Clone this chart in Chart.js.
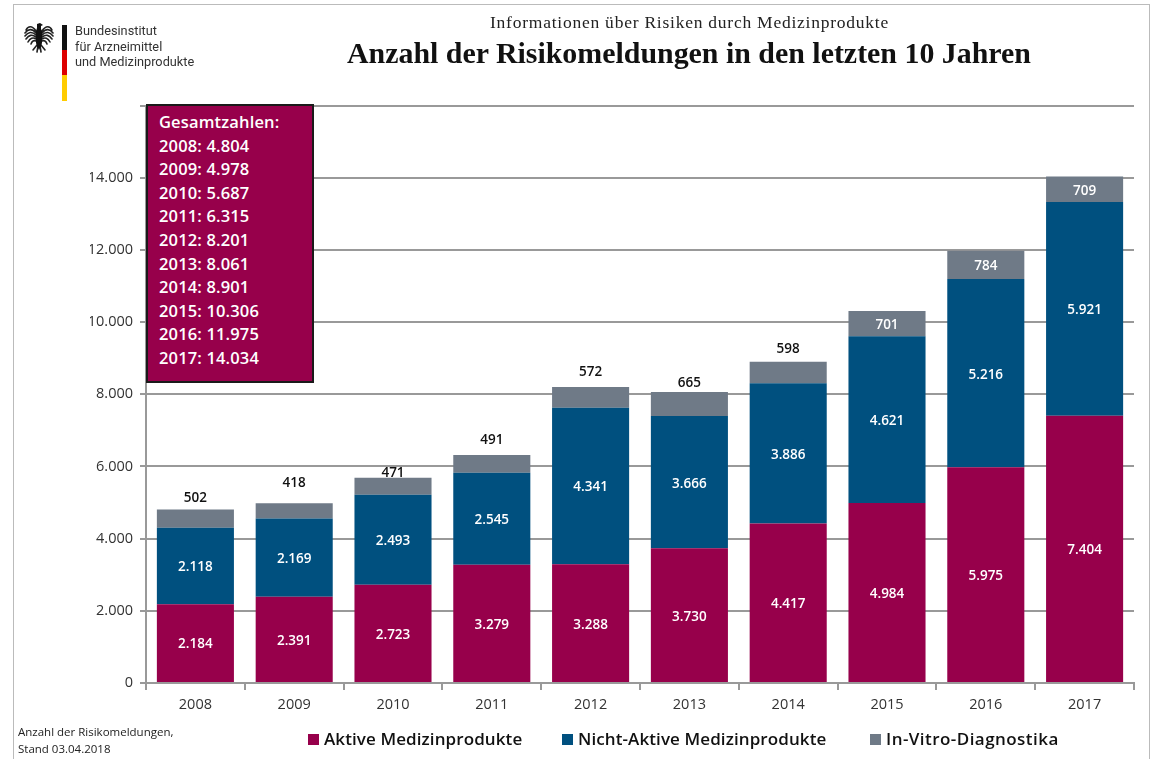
<!DOCTYPE html>
<html lang="de">
<head>
<meta charset="utf-8">
<title>Anzahl der Risikomeldungen</title>
<script src="https://cdn.jsdelivr.net/npm/chart.js@4"></script>
<style>
  html, body { margin: 0; padding: 0; background: #fff; }
  #page { position: relative; width: 1152px; height: 759px; overflow: hidden; font-family: "Open Sans", sans-serif; }
  #frame { position: absolute; left: 13px; top: 4px; width: 1135px; height: 770px; border: 1px solid #bbb; }
  .abs { position: absolute; white-space: nowrap; }
  #org { left: 75px; top: 23px; font: 13px/15.5px "Roboto", sans-serif; color: #333; transform: scaleX(.98); transform-origin: left top; }
  #flag { left: 62px; top: 25px; width: 5px; height: 76px; background: linear-gradient(#111 0 33%, #d00 33% 66%, #fc0 66%); }
  #eagle { left: 24px; top: 22px; }
  #subtitle { left: 490px; top: 12px; font: 17.5px "Liberation Serif", serif; color: #222; letter-spacing: .76px; }
  #title { left: 347px; top: 36px; font: bold 29.9px "Liberation Serif", serif; color: #111; }
  #totals { left: 146px; top: 104px; width: 164px; height: 275px; background: #97004b; border: 2px solid #1a1a1a; color: #fff; font: 600 16.5px/23.6px "Open Sans", sans-serif; letter-spacing: .15px; }
  #totals div { padding-left: 11px; }
  #totals div:first-child { margin-top: 4px; }
  #stand { left: 18px; top: 723px; font: 11.5px/17px "Open Sans", sans-serif; color: #222; }
  .key { position: absolute; top: 727px; font: 600 17px/24px "Open Sans", sans-serif; color: #111; white-space: nowrap; letter-spacing: .1px; }
  .key:last-child { letter-spacing: .45px; }
  .key i { display: inline-block; width: 11px; height: 11px; margin-right: 5px; }
</style>
</head>
<body>
<div id="page">
  <div id="frame"></div>
  <canvas id="riskChart" width="1152" height="759" style="position:absolute;left:0;top:0"></canvas>
  <svg id="eagle" class="abs" width="30" height="32" viewBox="0 0 30 32">
    <g stroke="#222" stroke-width="1.6" fill="none" stroke-linecap="round">
      <path d="M12 9C8 3 4 4 2 8M12 11C8 6 4 7 1 11M12 13C8 9 4 10 1 14M12 15C8 12 5 13 2 17M12 17C9 15 6 16 4 20M12 19C10 18 8 19 7 22"/>
      <path d="M18 9C22 3 26 4 28 8M18 11C22 6 26 7 29 11M18 13C22 9 26 10 29 14M18 15C22 12 25 13 28 17M18 17C21 15 24 16 26 20M18 19C20 18 22 19 23 22"/>
      <path d="M13 23L9 28M17 23L21 28M14 24L13 30M16 24L17 30"/>
    </g>
    <path fill="#111" d="M13 2l3-1 3 2-2 1 0 3 1 2v12l-1 3-2 4-2-4-1-3V9l1-3z"/>
  </svg>
  <div id="flag" class="abs"></div>
  <div id="org" class="abs">Bundesinstitut<br>für Arzneimittel<br>und Medizinprodukte</div>
  <div id="subtitle" class="abs">Informationen über Risiken durch Medizinprodukte</div>
  <div id="title" class="abs">Anzahl der Risikomeldungen in den letzten 10 Jahren</div>
  <div id="totals" class="abs"></div>
  <div id="stand" class="abs">Anzahl der Risikomeldungen,<br>Stand 03.04.2018</div>
  <div id="legend"></div>
</div>
<script>
const years = ["2008", "2009", "2010", "2011", "2012", "2013", "2014", "2015", "2016", "2017"];
const aktive = [2184, 2391, 2723, 3279, 3288, 3730, 4417, 4984, 5975, 7404];
const nichtAktive = [2118, 2169, 2493, 2545, 4341, 3666, 3886, 4621, 5216, 5921];
const inVitro = [502, 418, 471, 491, 572, 665, 598, 701, 784, 709];
const totals = [4804, 4978, 5687, 6315, 8201, 8061, 8901, 10306, 11975, 14034];
const yTicks = [0, 2000, 4000, 6000, 8000, 10000, 12000, 14000, 16000];

// the small grey values sit above their bars, each at its own height
const liftAbove = [11, 20, 5, 15, 15, 9, 13];
const legendLeft = [308, 562, 870];

const RED = "#97004b";
const BLUE = "#00507f";
const GREY = "#6f7a87";

function de(n) {
  return String(n).replace(/\B(?=(\d{3})+$)/g, ".");
}

const barLabels = {
  id: "barLabels",
  afterDatasetsDraw(chart) {
    const ctx = chart.ctx;
    ctx.save();
    ctx.font = '600 13.5px "Open Sans", sans-serif';
    ctx.textAlign = "center";
    ctx.textBaseline = "middle";
    chart.data.datasets.forEach((ds, d) => {
      chart.getDatasetMeta(d).data.forEach((bar, i) => {
        const small = d === 2 && i < liftAbove.length;
        ctx.fillStyle = small ? "#111" : "#fff";
        const y = small ? bar.y - liftAbove[i] : (bar.y + bar.base) / 2 + 1.5;
        ctx.fillText(de(ds.data[i]), bar.x, y);
      });
    });
    ctx.restore();
  },
};

const chart = new Chart(document.getElementById("riskChart").getContext("2d"), {
  type: "bar",
  data: {
    labels: years,
    datasets: [
      { label: "Aktive Medizinprodukte", data: aktive, backgroundColor: RED },
      { label: "Nicht-Aktive Medizinprodukte", data: nichtAktive, backgroundColor: BLUE },
      { label: "In-Vitro-Diagnostika", data: inVitro, backgroundColor: GREY },
    ],
  },
  options: {
    responsive: false,
    animation: false,
    layout: { padding: { left: 90, right: 18, top: 105.5, bottom: 46 } },
    plugins: { legend: { display: false }, tooltip: { enabled: false } },
    datasets: { bar: { barPercentage: 0.78, categoryPercentage: 1 } },
    scales: {
      x: {
        stacked: true,
        afterFit(s) { s.height = 30; },
        grid: { drawOnChartArea: false, color: "#999", lineWidth: 2, tickLength: 7 },
        border: { color: "#999", width: 2 },
        ticks: { color: "#333", font: { family: '"Open Sans", sans-serif', size: 14.5 }, padding: 6 },
      },
      y: {
        stacked: true,
        min: 0,
        max: 16000,
        afterFit(s) { s.width = 56; },
        afterBuildTicks(s) { s.ticks = yTicks.map((v) => ({ value: v })); },
        grid: { color: "#999", lineWidth: 2, tickLength: 6 },
        border: { color: "#999", width: 2 },
        ticks: {
          color: "#333",
          font: { family: '"Open Sans", sans-serif', size: 14.5 },
          padding: 7,
          callback: (v) => (v > 14000 ? "" : de(v)),
        },
      },
    },
  },
  plugins: [barLabels],
});

document.getElementById("totals").innerHTML =
  "<div>Gesamtzahlen:</div>" + years.map((y, i) => `<div>${y}: ${de(totals[i])}</div>`).join("");

document.getElementById("legend").innerHTML = chart.data.datasets
  .map((ds, i) => `<div class="key" style="left:${legendLeft[i]}px"><i style="background:${ds.backgroundColor}"></i>${ds.label}</div>`)
  .join("");
</script>
</body>
</html>
